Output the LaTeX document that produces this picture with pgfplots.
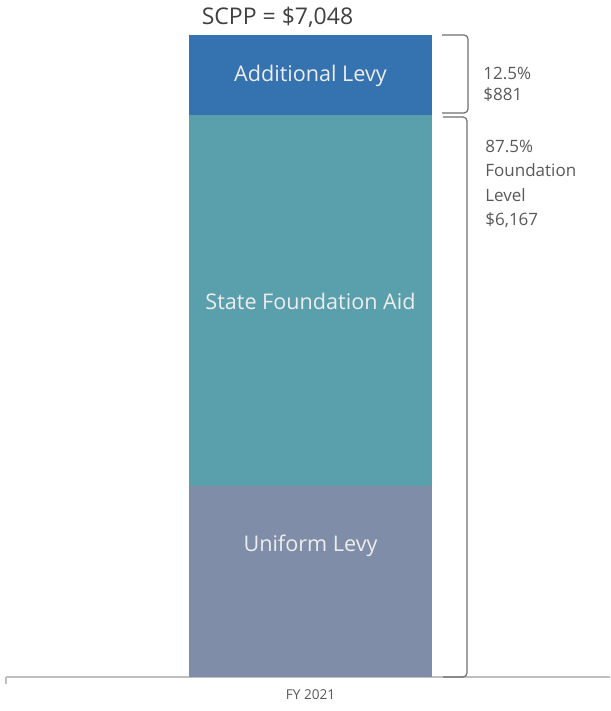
\documentclass[border=0pt]{standalone}
\usepackage{pgfplots}
\pgfplotsset{compat=1.18}
\usepackage{fontspec}
\setmainfont{Open Sans}
\definecolor{addlevy}{HTML}{3572B0}
\definecolor{sfa}{HTML}{5AA0AC}
\definecolor{unilevy}{HTML}{7F8DA8}
\definecolor{txtgray}{HTML}{595959}
\definecolor{ttlgray}{HTML}{404040}
\definecolor{axgray}{HTML}{BFBFBF}
\definecolor{brgray}{HTML}{6F6F6F}
\tikzset{rlab/.style={anchor=west, inner sep=0pt, text=txtgray, font=\fontsize{8.5}{10}\selectfont},
  blab/.style={text=white!93!black, font=\fontsize{10.8}{12}\selectfont}}
\begin{document}
\begin{tikzpicture}
\useasboundingbox (-3pt,-17pt) rectangle (302pt,338.5pt);
\begin{axis}[
  scale only axis,
  width=302pt, height=321pt,
  xmin=0, xmax=604, ymin=0, ymax=7048,
  axis x line*=bottom,
  axis y line*=left,
  y axis line style={draw=none},
  ytick=\empty,
  axis line style={axgray, line width=1pt},
  xtick={304.5}, xticklabels={FY 2021},
  major tick length=0pt,
  xticklabel style={font=\fontsize{6.8}{7}\selectfont, text=txtgray, yshift=-3pt},
  ybar stacked,
  bar width=121.5pt,
  clip=false,
]
\addplot[fill=unilevy, draw=none] coordinates {(304.5,2097)};
\addplot[fill=sfa, draw=none] coordinates {(304.5,4070)};
\addplot[fill=addlevy, draw=none] coordinates {(304.5,881)};
\draw[axgray, line width=1pt] (axis cs:0,0) -- ++(0,-3.5pt);
\coordinate (lu) at (axis cs:304.5,1438);
\coordinate (ls) at (axis cs:304.5,4128);
\coordinate (la) at (axis cs:304.5,6598);
\node[text=ttlgray, font=\fontsize{11.5}{12}\selectfont] at (axis cs:271.5,7245) {SCPP = \$7,048};
\draw[brgray, line width=0.6pt, rounded corners=2pt] (axis cs:436,7048) -- (axis cs:462,7048) -- (axis cs:462,6192) -- (axis cs:436,6192);
\draw[brgray, line width=0.6pt, rounded corners=2pt] (axis cs:437,6148) -- (axis cs:461,6148) -- (axis cs:461,0) -- (axis cs:437,0);
\node[rlab] at (axis cs:477,6631) {12.5\%};
\node[rlab] at (axis cs:477,6389) {\$881};
\node[rlab] at (axis cs:479,5829) {87.5\%};
\node[rlab] at (axis cs:479,5566) {Foundation};
\node[rlab] at (axis cs:479,5291) {Level};
\node[rlab] at (axis cs:479,5017) {\$6,167};
\end{axis}
\node[blab] at (lu) {Uniform Levy};
\node[blab] at (ls) {State Foundation Aid};
\node[blab] at (la) {Additional Levy};
\end{tikzpicture}
\end{document}
